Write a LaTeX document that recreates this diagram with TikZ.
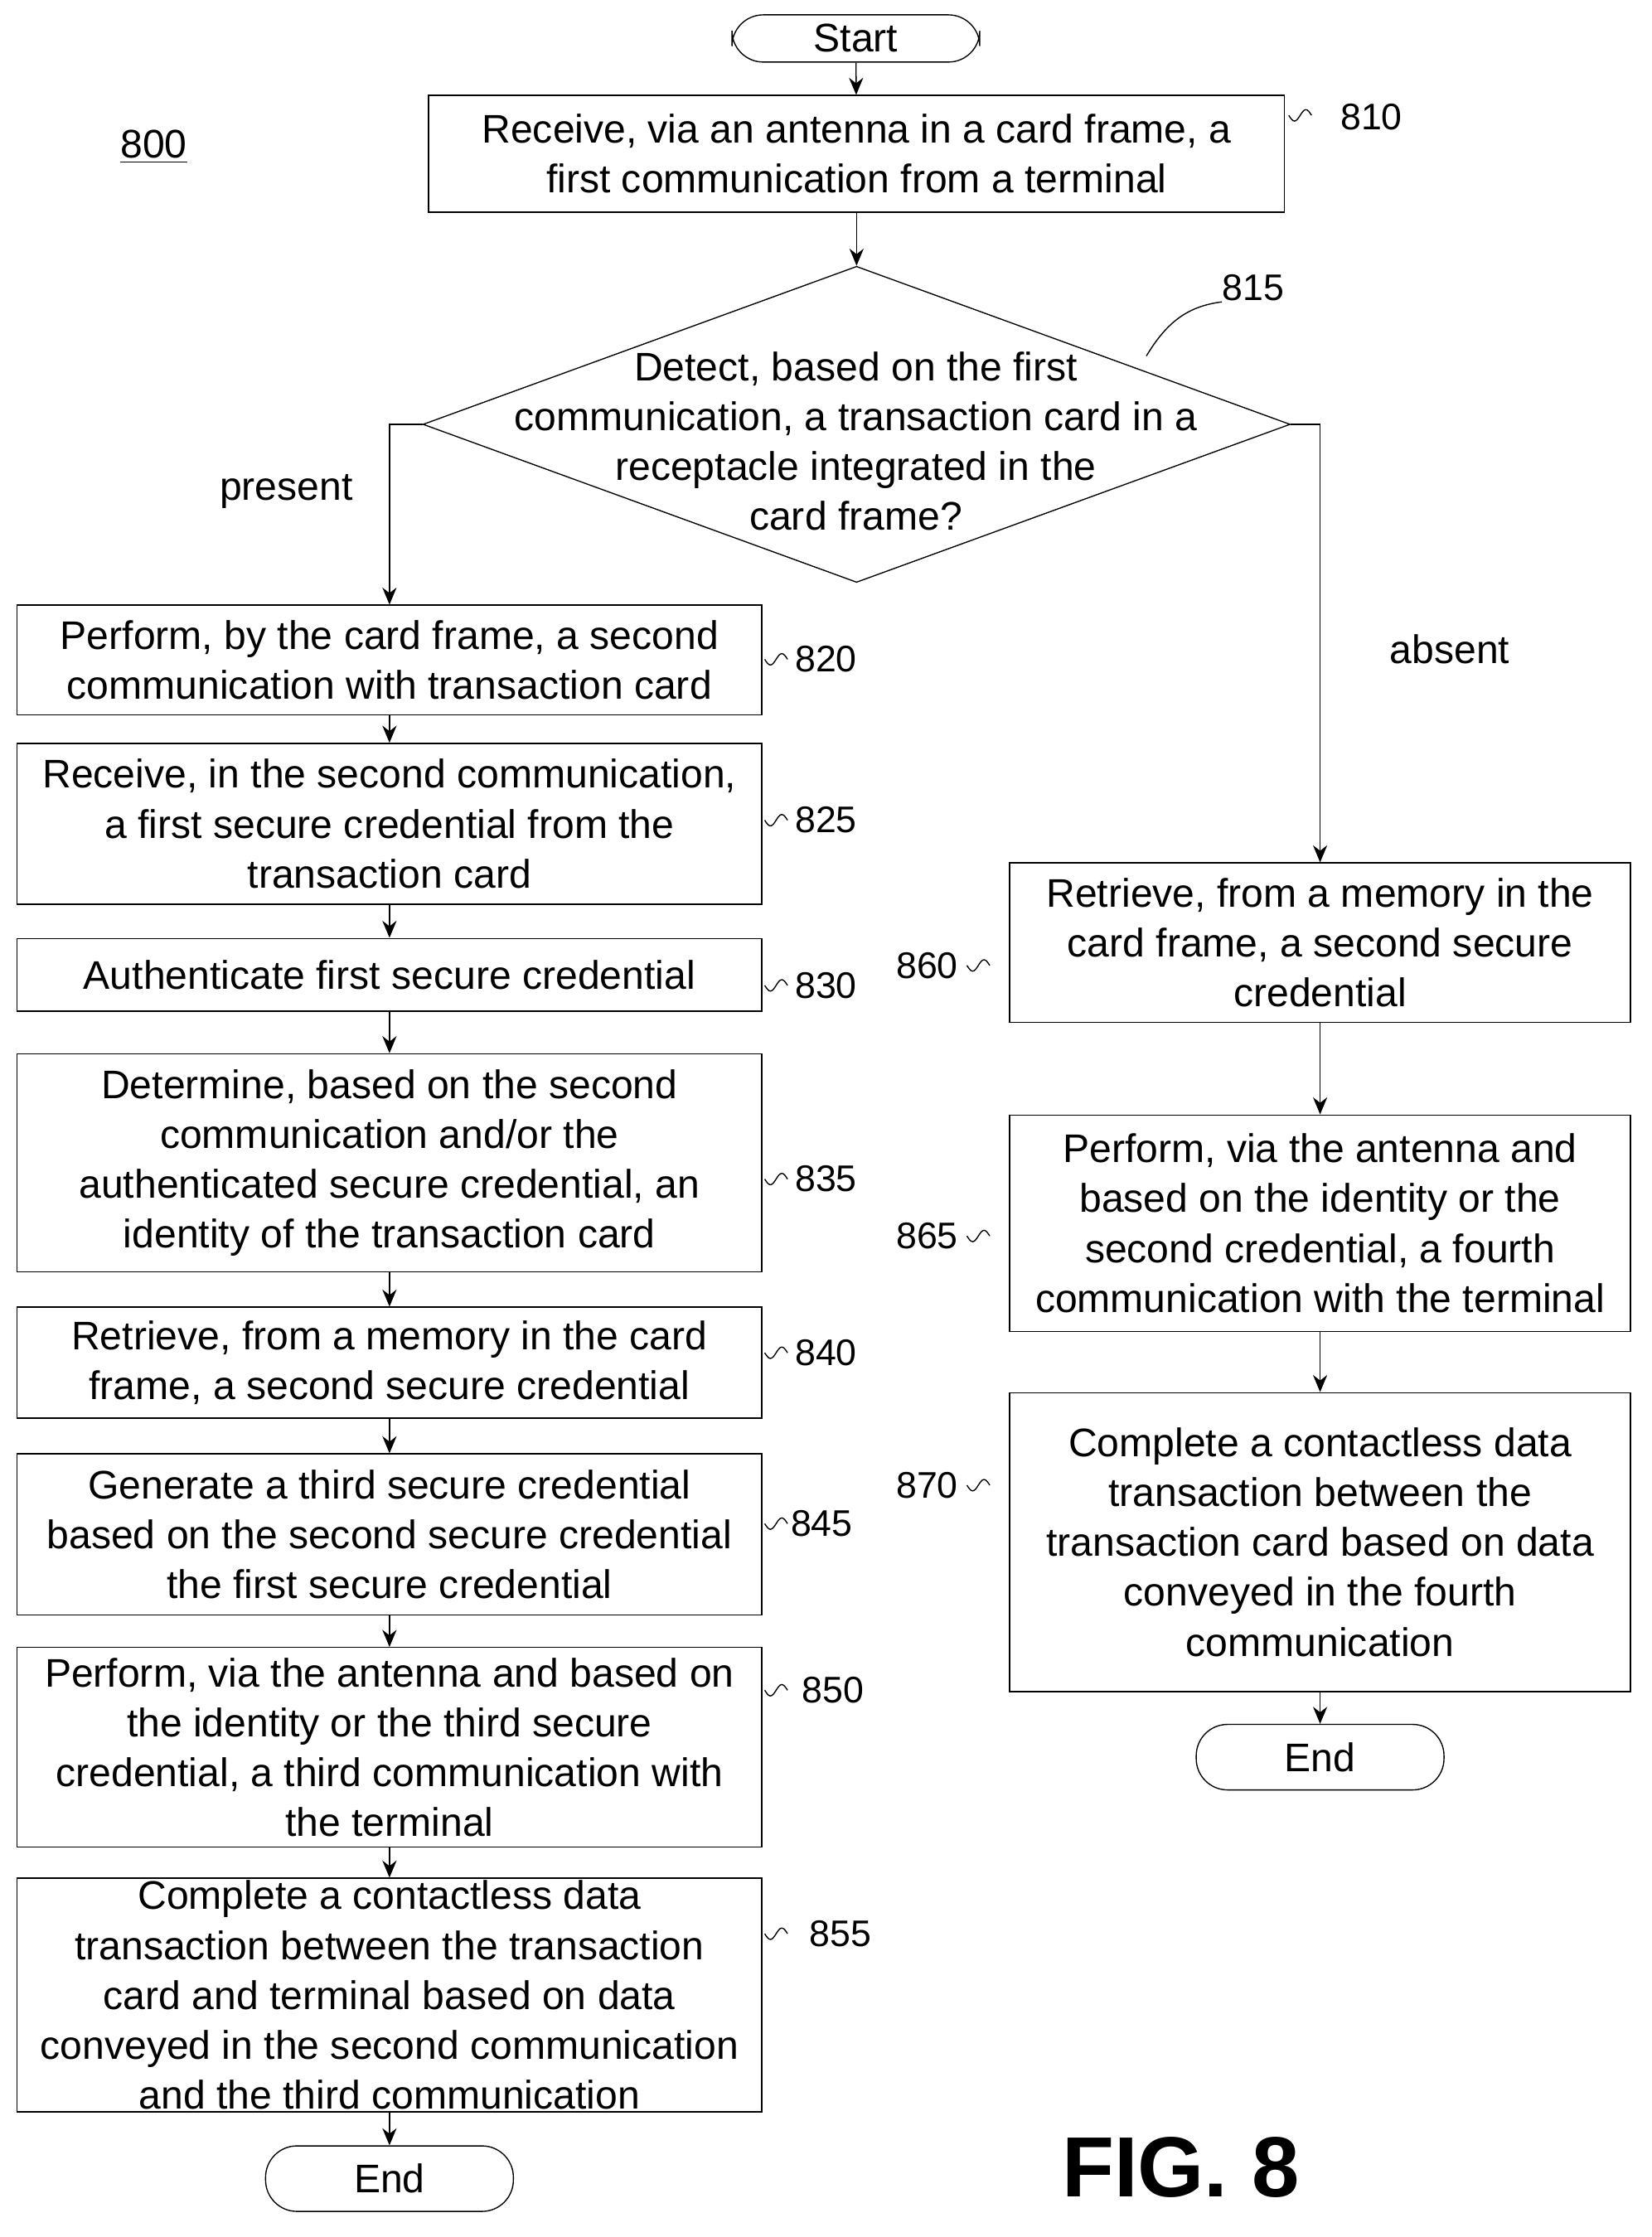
\documentclass[tikz,border=0pt]{standalone}
\usepackage{fontspec}
\setmainfont{Liberation Sans}
\usetikzlibrary{shapes.geometric,arrows.meta}
\tikzset{
  flowbox/.style={draw,align=center,inner sep=0pt,font=\fontsize{14}{17.5}\selectfont},
  term/.style={draw,rounded corners=11pt,align=center,font=\fontsize{14}{17.5}\selectfont},
  ref/.style={font=\fontsize{13}{15}\selectfont},
  flow/.style={-{Stealth[length=6pt,width=5pt]}},
}
\newcommand{\squig}[1]{\draw (#1) sin ++(4,4) cos ++(4,-4) sin ++(4,-4) cos ++(4,4);}
\begin{document}
\begin{tikzpicture}[x=0.5pt,y=-0.5pt]
\useasboundingbox (0,0) rectangle (1160,1571);
% start and first step
\node[term,minimum width=87pt,minimum height=16pt] (start) at (601,27) {Start};
\node[flowbox,minimum width=300.5pt,minimum height=41pt] (s810) at (601.5,108)
  {Receive, via an antenna in a card frame, a\\first communication from a terminal};
\node[draw,diamond,aspect=2.74,minimum width=304.5pt,minimum height=111pt,inner sep=0pt] (s815) at (601.5,298) {};
\node[align=center,font=\fontsize{14}{17.5}\selectfont] (t815) at (601,310)
  {Detect, based on the first\\communication, a transaction card in a\\receptacle integrated in the\\card frame?};
% left column
\node[flowbox,minimum width=261.5pt,minimum height=38.5pt] (s820) at (273.5,463.5)
  {Perform, by the card frame, a second\\communication with transaction card};
\node[flowbox,minimum width=261.5pt,minimum height=56.5pt] (s825) at (273.5,578.5)
  {Receive, in the second communication,\\a first secure credential from the\\transaction card};
\node[flowbox,minimum width=261.5pt,minimum height=25.5pt] (s830) at (273.5,684.5)
  {Authenticate first secure credential};
\node[flowbox,minimum width=261.5pt,minimum height=76.5pt] (s835) at (273.5,816.5)
  {Determine, based on the second\\communication and/or the\\authenticated secure credential, an\\identity of the transaction card};
\node[flowbox,minimum width=261.5pt,minimum height=39pt] (s840) at (273.5,957)
  {Retrieve, from a memory in the card\\frame, a second secure credential};
\node[flowbox,minimum width=261.5pt,minimum height=56.5pt] (s845) at (273.5,1077.5)
  {Generate a third secure credential\\based on the second secure credential\\the first secure credential};
\node[flowbox,minimum width=261.5pt,minimum height=70pt] (s850) at (273.5,1227)
  {Perform, via the antenna and based on\\the identity or the third secure\\credential, a third communication with\\the terminal};
\node[flowbox,minimum width=261.5pt,minimum height=82pt] (s855) at (273.5,1401)
  {Complete a contactless data\\transaction between the transaction\\card and terminal based on data\\conveyed in the second communication\\and the third communication};
\node[term,minimum width=87pt,minimum height=23pt] (end1) at (273.5,1530) {End};
% right column
\node[flowbox,minimum width=218pt,minimum height=56pt] (s860) at (927,662)
  {Retrieve, from a memory in the\\card frame, a second secure\\credential};
\node[flowbox,minimum width=218pt,minimum height=76pt] (s865) at (927,859)
  {Perform, via the antenna and\\based on the identity or the\\second credential, a fourth\\communication with the terminal};
\node[flowbox,minimum width=218pt,minimum height=105pt] (s870) at (927,1083)
  {Complete a contactless data\\transaction between the\\transaction card based on data\\conveyed in the fourth\\communication};
\node[term,minimum width=87pt,minimum height=23pt] (end2) at (927,1234) {End};
% connectors
\draw[flow] (start) -- (s810);
\draw[flow] (s810) -- (s815.north);
\draw[flow] (s815.west) -| (s820.north);
\draw[flow] (s815.east) -| (s860.north);
\foreach \a/\b in {s820/s825,s825/s830,s830/s835,s835/s840,s840/s845,s845/s850,s850/s855,s855/end1,s860/s865,s865/s870,s870/end2}
  \draw[flow] (\a) -- (\b);
% labels
\node[font=\fontsize{14}{17}\selectfont] (present) at (201,345) {present};
\node[font=\fontsize{14}{17}\selectfont] (absent) at (1018,456) {absent};
\node[font=\fontsize{14}{17}\selectfont] (fig) at (108,103) {\underline{800}};
\node[font=\fontsize{30}{34}\selectfont\bfseries] (figlabel) at (829,1522) {FIG. 8};
\node[ref] (r810) at (963,82) {810};
\coordinate (q815) at (805,250);
\node[ref] (r815) at (880,202) {815};
\draw (q815) .. controls (820,225) and (835,215) .. (858,212);
\foreach \n/\y/\x in {820/463/580,825/576/580,830/692/580,835/828/580,840/950/580,845/1070/577,850/1187/585,855/1358/590}
  \node[ref] (r\n) at (\x,\y) {\n};
\foreach \y in {463,576,692,828,950,1070,1187,1358} {
  \squig{537,\y}
}
\squig{905,81}
\foreach \n/\y in {860/678,865/868,870/1043} {
  \node[ref] (r\n) at (651,\y) {\n};
  \squig{679,\y}
}
\end{tikzpicture}
\end{document}
